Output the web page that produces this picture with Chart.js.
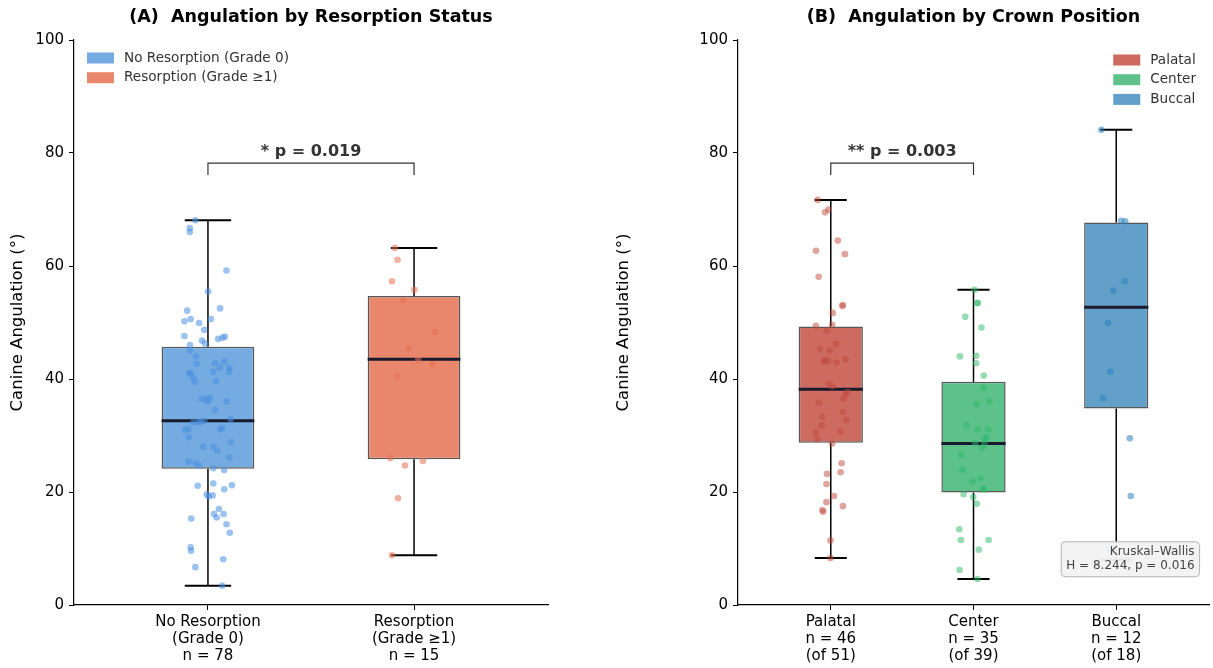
<!DOCTYPE html>
<html>
<head>
<meta charset="utf-8">
<script src="https://cdn.jsdelivr.net/npm/chart.js@4.4.1/dist/chart.umd.min.js"></script>
<style>
    html, body { margin: 0; padding: 0; background: #fff; }
    #wrap { position: relative; width: 1213px; height: 668px; }
    .panel { position: absolute; top: 0; height: 668px; }
    #panelA { left: 0; width: 606px; }
    #panelB { left: 606px; width: 607px; }
</style>
</head>
<body>
<div id="wrap">
    <div class="panel" id="panelA"><canvas id="chartA"></canvas></div>
    <div class="panel" id="panelB"><canvas id="chartB"></canvas></div>
</div>
<script>
// Panel A: resorption status
const resorptionGroups = ['No Resorption (Grade 0)', 'Resorption (Grade ≥1)'];
const resorptionTicks = [
    ['No Resorption', '(Grade 0)', 'n = 78'],
    ['Resorption', '(Grade ≥1)', 'n = 15']
];
// [lower whisker, Q1, median, Q3, upper whisker]
const resorptionStats = [
    [3.4, 24.1, 32.6, 45.7, 68.1],
    [8.8, 25.8, 43.5, 54.7, 63.2]
];
const noResorptionValues = [68.1, 66.7, 66.0, 59.2, 55.5, 52.1, 52.5, 50.2, 50.6, 49.9, 50.6, 48.7, 47.6, 46.8, 46.3,
    47.1, 47.3, 47.5, 46.0, 45.1, 42.7, 42.8, 43.1, 42.0, 42.0, 41.3, 41.3, 41.1, 40.9, 40.1, 39.5, 39.6, 36.5, 36.7,
    36.3, 36.1, 36.0, 32.9, 32.6, 32.3, 32.4, 32.4, 31.0, 31.1, 31.1, 31.3, 29.7, 28.8, 28.0, 28.0, 27.3, 26.1, 25.4,
    25.1, 24.7, 24.2, 23.9, 21.1, 21.5, 20.5, 21.2, 19.6, 19.2, 19.4, 17.0, 16.1, 15.5, 16.1, 15.3, 14.3, 12.8, 10.2,
    9.6, 8.1, 6.7, 3.4, 44.0, 34.5];
const noResorptionJitter = [-0.061, -0.088, -0.088, 0.090, 0.001, -0.101, 0.059, -0.114, -0.084, -0.043, 0.014, -0.018,
    -0.114, -0.029, -0.014, 0.050, 0.071, 0.082, -0.087, -0.087, -0.055, 0.034, 0.079, 0.058, 0.103, 0.103, 0.026,
    -0.090, -0.084, -0.071, -0.063, 0.039, -0.029, 0.010, -0.010, 0.001, 0.090, 0.110, -0.018, -0.071, -0.047, -0.034,
    -0.111, -0.095, 0.061, 0.068, -0.093, 0.111, -0.023, 0.026, 0.045, 0.103, -0.093, -0.059, -0.042, 0.026, 0.079,
    -0.050, 0.026, 0.079, 0.116, -0.006, 0.003, 0.023, 0.053, 0.029, 0.042, 0.076, -0.081, 0.090, 0.106, -0.084,
    -0.082, 0.074, -0.061, 0.069, -0.058, 0.034];
const resorptionValues = [63.2, 61.1, 57.3, 55.8, 53.9, 48.3, 45.4, 43.4, 42.6, 40.5, 26.0, 25.5, 24.7, 18.9, 8.8];
const resorptionJitter = [-0.093, -0.080, -0.107, 0.002, -0.052, 0.100, -0.027, 0.020, 0.089, -0.083, -0.115, 0.043,
    -0.044, -0.078, -0.107];

// Panel B: crown position
const crownGroups = ['Palatal', 'Center', 'Buccal'];
const crownTicks = [
    ['Palatal', 'n = 46', '(of 51)'],
    ['Center', 'n = 35', '(of 39)'],
    ['Buccal', 'n = 12', '(of 18)']
];
const crownStats = [
    [8.3, 28.7, 38.2, 49.3, 71.7],
    [4.6, 19.9, 28.6, 39.5, 55.8],
    [8.0, 34.8, 52.7, 67.7, 84.1]
];
const palatalValues = [71.7, 70.0, 69.5, 64.5, 62.7, 62.1, 58.1, 53.1, 52.9, 51.7, 49.4, 49.6, 48.6, 46.2, 45.3, 45.1,
    43.1, 43.3, 43.1, 42.9, 43.5, 39.2, 38.7, 37.7, 37.2, 36.5, 35.8, 34.2, 33.3, 32.7, 31.8, 30.7, 30.5, 29.3, 28.6,
    25.1, 23.2, 23.5, 21.4, 19.3, 18.2, 17.5, 16.8, 16.5, 11.4, 8.3];
const palatalJitter = [-0.092, -0.016, -0.040, 0.049, -0.104, 0.099, -0.085, 0.085, 0.081, 0.014, -0.104, 0.009,
    -0.028, 0.037, -0.074, -0.007, -0.049, -0.037, -0.019, 0.040, 0.104, -0.016, 0.012, 0.118, 0.102, 0.088, -0.083,
    0.085, -0.060, 0.111, -0.063, 0.069, -0.106, -0.095, 0.009, 0.076, -0.026, 0.069, -0.030, 0.023, -0.030, 0.085,
    -0.058, -0.053, -0.002, -0.002];
const centerValues = [55.8, 53.5, 53.4, 51.0, 49.1, 44.0, 44.1, 42.8, 40.6, 38.5, 36.0, 35.5, 31.8, 31.1, 31.1, 29.7,
    29.4, 28.6, 28.4, 27.8, 26.6, 23.9, 22.4, 21.8, 20.6, 20.4, 19.6, 19.1, 17.9, 13.4, 11.5, 11.5, 9.8, 6.2, 4.6];
const centerJitter = [0.007, 0.030, 0.026, -0.058, 0.056, -0.095, 0.019, 0.019, 0.072, 0.069, 0.111, 0.023, -0.051,
    0.030, 0.104, 0.092, 0.074, 0.012, 0.076, 0.058, -0.088, -0.078, 0.049, -0.007, 0.065, 0.074, -0.069, -0.002,
    0.023, -0.099, -0.088, 0.106, 0.037, -0.097, 0.028];
// the two lowest buccal values sit behind the Kruskal-Wallis note
const buccalValues = [84.1, 68.0, 67.9, 57.3, 55.6, 49.9, 41.3, 36.6, 29.5, 19.3, 9.8, 8.0];
const buccalJitter = [-0.104, 0.035, 0.063, 0.060, -0.021, -0.058, -0.042, -0.092, 0.095, 0.102, -0.050, 0.080];

const FONT = 'DejaVu Sans';
Chart.defaults.font.family = FONT;
Chart.defaults.color = '#000';

// whiskers, caps and medians, drawn right after the boxes (below the dots)
// plus brackets, legend and the note on top of everything
const boxExtras = {
    id: 'boxExtras',
    afterDatasetDraw(chart, args, opts) {
        if (args.index !== 0) return;
        const { ctx, scales: { x, y } } = chart;
        const seg = (x0, y0, x1, y1) => { ctx.beginPath(); ctx.moveTo(x0, y0); ctx.lineTo(x1, y1); ctx.stroke(); };
        opts.stats.forEach((s, g) => {
            const cx = x.getPixelForValue(g);
            ctx.save();
            ctx.strokeStyle = '#000';
            ctx.lineWidth = 1.5;
            seg(cx, y.getPixelForValue(s[0]), cx, y.getPixelForValue(s[1]));
            seg(cx, y.getPixelForValue(s[3]), cx, y.getPixelForValue(s[4]));
            const c0 = x.getPixelForValue(g - 0.1125), c1 = x.getPixelForValue(g + 0.1125);
            ctx.lineWidth = 2;
            seg(c0, y.getPixelForValue(s[0]), c1, y.getPixelForValue(s[0]));
            seg(c0, y.getPixelForValue(s[4]), c1, y.getPixelForValue(s[4]));
            ctx.strokeStyle = '#1a1a2e';
            ctx.lineWidth = 3;
            seg(x.getPixelForValue(g - 0.225), y.getPixelForValue(s[2]), x.getPixelForValue(g + 0.225), y.getPixelForValue(s[2]));
            ctx.restore();
        });
    },
    afterDraw(chart, args, opts) {
        const { ctx, chartArea: area, scales: { x, y } } = chart;
        ctx.save();

        // significance bracket
        const b = opts.bracket;
        const xa = x.getPixelForValue(b.from), xb = x.getPixelForValue(b.to);
        const yTop = y.getPixelForValue(b.level), yTip = y.getPixelForValue(b.level - 2.1);
        ctx.strokeStyle = '#333';
        ctx.lineWidth = 1.2;
        ctx.beginPath();
        ctx.moveTo(xa, yTip); ctx.lineTo(xa, yTop); ctx.lineTo(xb, yTop); ctx.lineTo(xb, yTip);
        ctx.stroke();
        ctx.fillStyle = '#333';
        ctx.font = `bold 16px ${FONT}`;
        ctx.textAlign = 'center';
        ctx.textBaseline = 'bottom';
        ctx.fillText(b.text, (xa + xb) / 2, yTop - 3);

        // legend
        const lg = opts.legend;
        ctx.font = `13.6px ${FONT}`;
        const maxW = Math.max(...lg.labels.map(t => ctx.measureText(t).width));
        const left = lg.side === 'left' ? area.left + 13 : area.right - 13 - maxW - 37;
        ctx.textAlign = 'left';
        ctx.textBaseline = 'middle';
        lg.labels.forEach((t, i) => {
            const cy = area.top + lg.first + i * 19.7;
            ctx.fillStyle = lg.colors[i];
            ctx.fillRect(left, cy - 5.5, 27, 11);
            ctx.fillStyle = '#333';
            ctx.fillText(t, left + 37, cy);
        });

        // statistics note
        if (opts.note) {
            ctx.font = `12px ${FONT}`;
            const w = Math.max(...opts.note.map(t => ctx.measureText(t).width)) + 10;
            const h = opts.note.length * 14.5 + 6;
            const rx = area.left + 0.98 * area.width, by = area.top + 0.95 * area.height;
            ctx.beginPath();
            ctx.roundRect(rx - w, by - h, w, h, 4);
            ctx.fillStyle = 'rgba(242,242,242,0.95)';
            ctx.fill();
            ctx.strokeStyle = '#b5b5b5';
            ctx.lineWidth = 1;
            ctx.stroke();
            ctx.fillStyle = '#444';
            ctx.textAlign = 'right';
            ctx.textBaseline = 'middle';
            opts.note.forEach((t, i) => ctx.fillText(t, rx - 5, by - h + 10 + i * 14.5));
        }
        ctx.restore();
    }
};

function boxChart(canvasId, cfg) {
    const n = cfg.stats.length;
    const datasets = [{
        type: 'bar',
        data: cfg.stats.map((s, g) => ({ x: g, y: [s[1], s[3]] })),
        backgroundColor: cfg.boxColors,
        borderColor: 'rgba(45,45,45,0.8)',
        borderWidth: 1.5,
        borderSkipped: false,
        barPercentage: 0.45,
        categoryPercentage: 1,
        order: 2
    }];
    cfg.values.forEach((vals, g) => {
        datasets.push({
            type: 'scatter',
            data: vals.map((v, i) => ({ x: g + cfg.jitter[g][i], y: v })),
            pointRadius: 3.3,
            pointBorderWidth: 0,
            pointBackgroundColor: cfg.dotColors[g],
            order: 1
        });
    });

    return new Chart(document.getElementById(canvasId), {
        type: 'bar',
        data: { datasets },
        options: {
            responsive: true,
            maintainAspectRatio: false,
            animation: false,
            layout: { padding: { left: 0, right: cfg.padRight, top: 0, bottom: 0 } },
            scales: {
                x: {
                    type: 'linear',
                    min: -0.65,
                    max: n - 1 + 0.65,
                    offset: false,
                    afterBuildTicks: s => { s.ticks = cfg.ticks.map((t, i) => ({ value: i })); },
                    afterFit: s => { s.height = 63; },
                    ticks: {
                        callback: v => cfg.ticks[v],
                        font: { size: 15, lineHeight: 1.13 },
                        color: '#000',
                        padding: 4,
                        maxRotation: 0,
                        autoSkip: false
                    },
                    grid: { display: true, offset: false, drawOnChartArea: false, drawTicks: true, tickLength: 5, color: '#000' },
                    border: { display: true, color: '#000', width: 1.2 }
                },
                y: {
                    min: 0,
                    max: 100,
                    afterFit: s => { s.width = cfg.axisLeft; },
                    ticks: { stepSize: 20, font: { size: 15 }, color: '#000', padding: 5 },
                    grid: { display: true, drawOnChartArea: false, drawTicks: true, tickLength: 5, color: '#000' },
                    border: { display: true, color: '#000', width: 1.2 },
                    title: {
                        display: true,
                        text: 'Canine Angulation (°)',
                        font: { size: 16.5, lineHeight: 1.2 },
                        color: '#000',
                        padding: { top: 8, bottom: 0 }
                    }
                }
            },
            plugins: {
                legend: { display: false },
                tooltip: { enabled: false },
                title: {
                    display: true,
                    text: cfg.title,
                    fullSize: false,
                    color: '#000',
                    font: { size: 17.5, weight: 'bold', lineHeight: 1.2 },
                    padding: { top: 7, bottom: 12 }
                },
                boxExtras: {
                    stats: cfg.stats,
                    bracket: cfg.bracket,
                    legend: cfg.legend,
                    note: cfg.note
                }
            }
        },
        plugins: [boxExtras]
    });
}

boxChart('chartA', {
    title: '(A)  Angulation by Resorption Status',
    ticks: resorptionTicks,
    stats: resorptionStats,
    values: [noResorptionValues, resorptionValues],
    jitter: [noResorptionJitter, resorptionJitter],
    boxColors: ['#74abe0', '#e8876c'],
    dotColors: ['rgba(74,144,226,0.55)', 'rgba(230,112,84,0.55)'],
    axisLeft: 74,
    padRight: 58,
    bracket: { from: 0, to: 1, level: 78.2, text: '* p = 0.019' },
    legend: { side: 'left', first: 18, labels: resorptionGroups, colors: ['#74abe0', '#e8876c'] }
});

boxChart('chartB', {
    title: '(B)  Angulation by Crown Position',
    ticks: crownTicks,
    stats: crownStats,
    values: [palatalValues, centerValues, buccalValues],
    jitter: [palatalJitter, centerJitter, buccalJitter],
    boxColors: ['#cd6b61', '#5dc28a', '#62a0c9'],
    dotColors: ['rgba(192,74,62,0.5)', 'rgba(46,184,106,0.5)', 'rgba(41,128,190,0.55)'],
    axisLeft: 132,
    padRight: 1,
    bracket: { from: 0, to: 1, level: 78.2, text: '** p = 0.003' },
    legend: { side: 'right', first: 20, labels: crownGroups, colors: ['#cd6b61', '#5dc28a', '#62a0c9'] },
    note: ['Kruskal–Wallis', 'H = 8.244, p = 0.016']
});
</script>
</body>
</html>
